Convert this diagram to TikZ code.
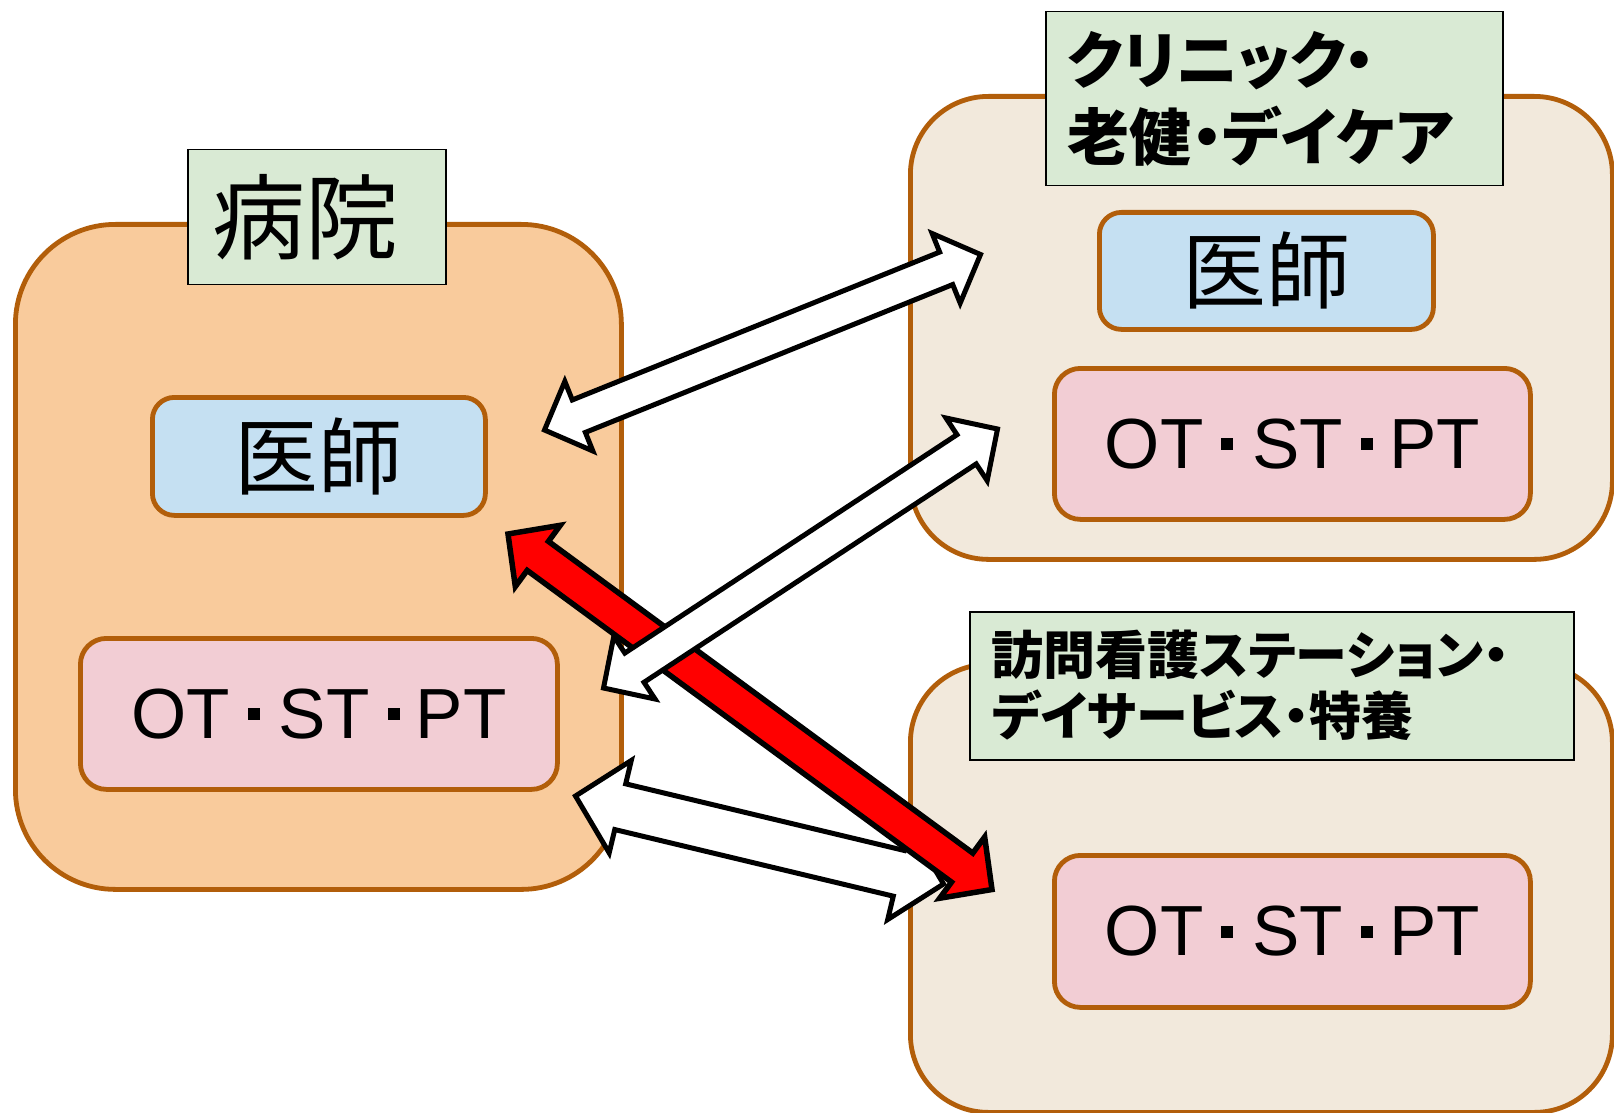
\documentclass[tikz,border=0pt]{standalone}
\usepackage{fontspec}
\setmainfont{Liberation Sans}
\newfontfamily\jp[RawFeature=+palt]{Noto Sans CJK JP}
\usetikzlibrary{calc}
\definecolor{brd}{HTML}{B25E0A}
\definecolor{hospfill}{HTML}{F9CB9C}
\definecolor{sidefill}{HTML}{F2E9DC}
\definecolor{lblfill}{HTML}{D9EAD4}
\definecolor{docfill}{HTML}{C5E0F2}
\definecolor{therfill}{HTML}{F2CDD4}
\newcommand\otdot[2]{\hspace{#1}\rule[9pt]{6pt}{6pt}\hspace{#2}}
\newcommand\otstpt{OT\otdot{9pt}{9.5pt}ST\otdot{9pt}{8pt}PT}
\newcommand\blockarrow[6]{%
  \draw[#1] (#2)
    -- ($(#2)!#6!(#3)!#5!90:(#3)$)
    -- ($(#2)!#6!(#3)!#4!90:(#3)$)
    -- ($(#3)!#6!(#2)!#4!-90:(#2)$)
    -- ($(#3)!#6!(#2)!#5!-90:(#2)$)
    -- (#3)
    -- ($(#3)!#6!(#2)!#5!90:(#2)$)
    -- ($(#3)!#6!(#2)!#4!90:(#2)$)
    -- ($(#2)!#6!(#3)!#4!-90:(#3)$)
    -- ($(#2)!#6!(#3)!#5!-90:(#3)$)
    -- cycle;}
\begin{document}
\begin{tikzpicture}[x=0.5pt,y=-0.5pt,
  bigbox/.style={draw=brd, line width=2.4pt, anchor=north west, inner sep=0pt},
  inbox/.style={draw=brd, line width=2.4pt, anchor=north west, inner sep=0pt, rounded corners=11pt},
  docbox/.style={inbox, fill=docfill, font={\jp\fontsize{42pt}{50pt}\selectfont}},
  therbox/.style={inbox, fill=therfill, rounded corners=13pt, font={\fontsize{35.5pt}{42pt}\selectfont}},
  lbl/.style={draw=black, line width=0.75pt, fill=lblfill, anchor=north west, inner ysep=0pt, align=left},
  warrow/.style={draw=black, fill=white, line width=2.5pt, miter limit=4},
  rarrow/.style={draw=black, fill=red, line width=2.75pt, miter limit=4}
]
\useasboundingbox (0,0) rectangle (1614,1113);
% containers
\node[bigbox, fill=hospfill, rounded corners=50pt, minimum width=303pt, minimum height=332.5pt] (hosp) at (13,222) {};
\node[bigbox, fill=sidefill, rounded corners=39pt, minimum width=351pt, minimum height=231.5pt] (clinic) at (908,94) {};
\node[bigbox, fill=sidefill, rounded corners=39pt, minimum width=351pt, minimum height=224pt] (visit) at (908,662) {};
% labels
\node[lbl, minimum width=129pt, minimum height=67.5pt, text width=104pt, inner xsep=12.5pt,
  font={\jp\fontsize{46.5pt}{50pt}\selectfont}] (hospl) at (187,149) {病院};
\node[lbl, minimum width=228.5pt, minimum height=87pt, text width=206.5pt, inner xsep=11pt,
  font={\jp\bfseries\fontsize{31pt}{38.5pt}\selectfont}] (clinicl) at (1045,11) {クリニック・\\老健・デイケア};
\node[lbl, minimum width=302pt, minimum height=74pt, text width=280pt, inner xsep=11pt,
  font={\jp\bfseries\fontsize{26pt}{30.5pt}\selectfont}] (visitl) at (969,611) {訪問看護ステーション・\\デイサービス・特養};
% inner boxes
\node[docbox, minimum width=166.5pt, minimum height=59pt] (hdoc) at (150,395) {医師};
\node[therbox, minimum width=238.5pt, minimum height=75.5pt] (hther) at (78,636) {\otstpt};
\node[docbox, minimum width=167pt, minimum height=58.5pt] (cdoc) at (1097,210) {医師};
\node[therbox, minimum width=238pt, minimum height=75.5pt] (cther) at (1052,366) {\otstpt};
\node[therbox, minimum width=238pt, minimum height=76pt] (vther) at (1052,853) {\otstpt};
% arrow ends
\coordinate (a1l) at (544.5,430);
\coordinate (a1r) at (980.5,254.5);
\coordinate (a2l) at (603.5,688);
\coordinate (a2r) at (997.5,429);
\coordinate (a3l) at (575.5,796);
\coordinate (a3r) at (943.5,884);
\coordinate (rl) at (508,534);
\coordinate (rr) at (992,889.5);
% arrows
\blockarrow{warrow}{a1l}{a1r}{8.75pt}{18.75pt}{18.5pt}
\blockarrow{warrow}{a3l}{a3r}{11.75pt}{23.75pt}{23pt}
\blockarrow{rarrow}{rl}{rr}{9pt}{19pt}{18.5pt}
\blockarrow{warrow}{a2l}{a2r}{8.75pt}{18.75pt}{18.5pt}
\end{tikzpicture}
\end{document}
